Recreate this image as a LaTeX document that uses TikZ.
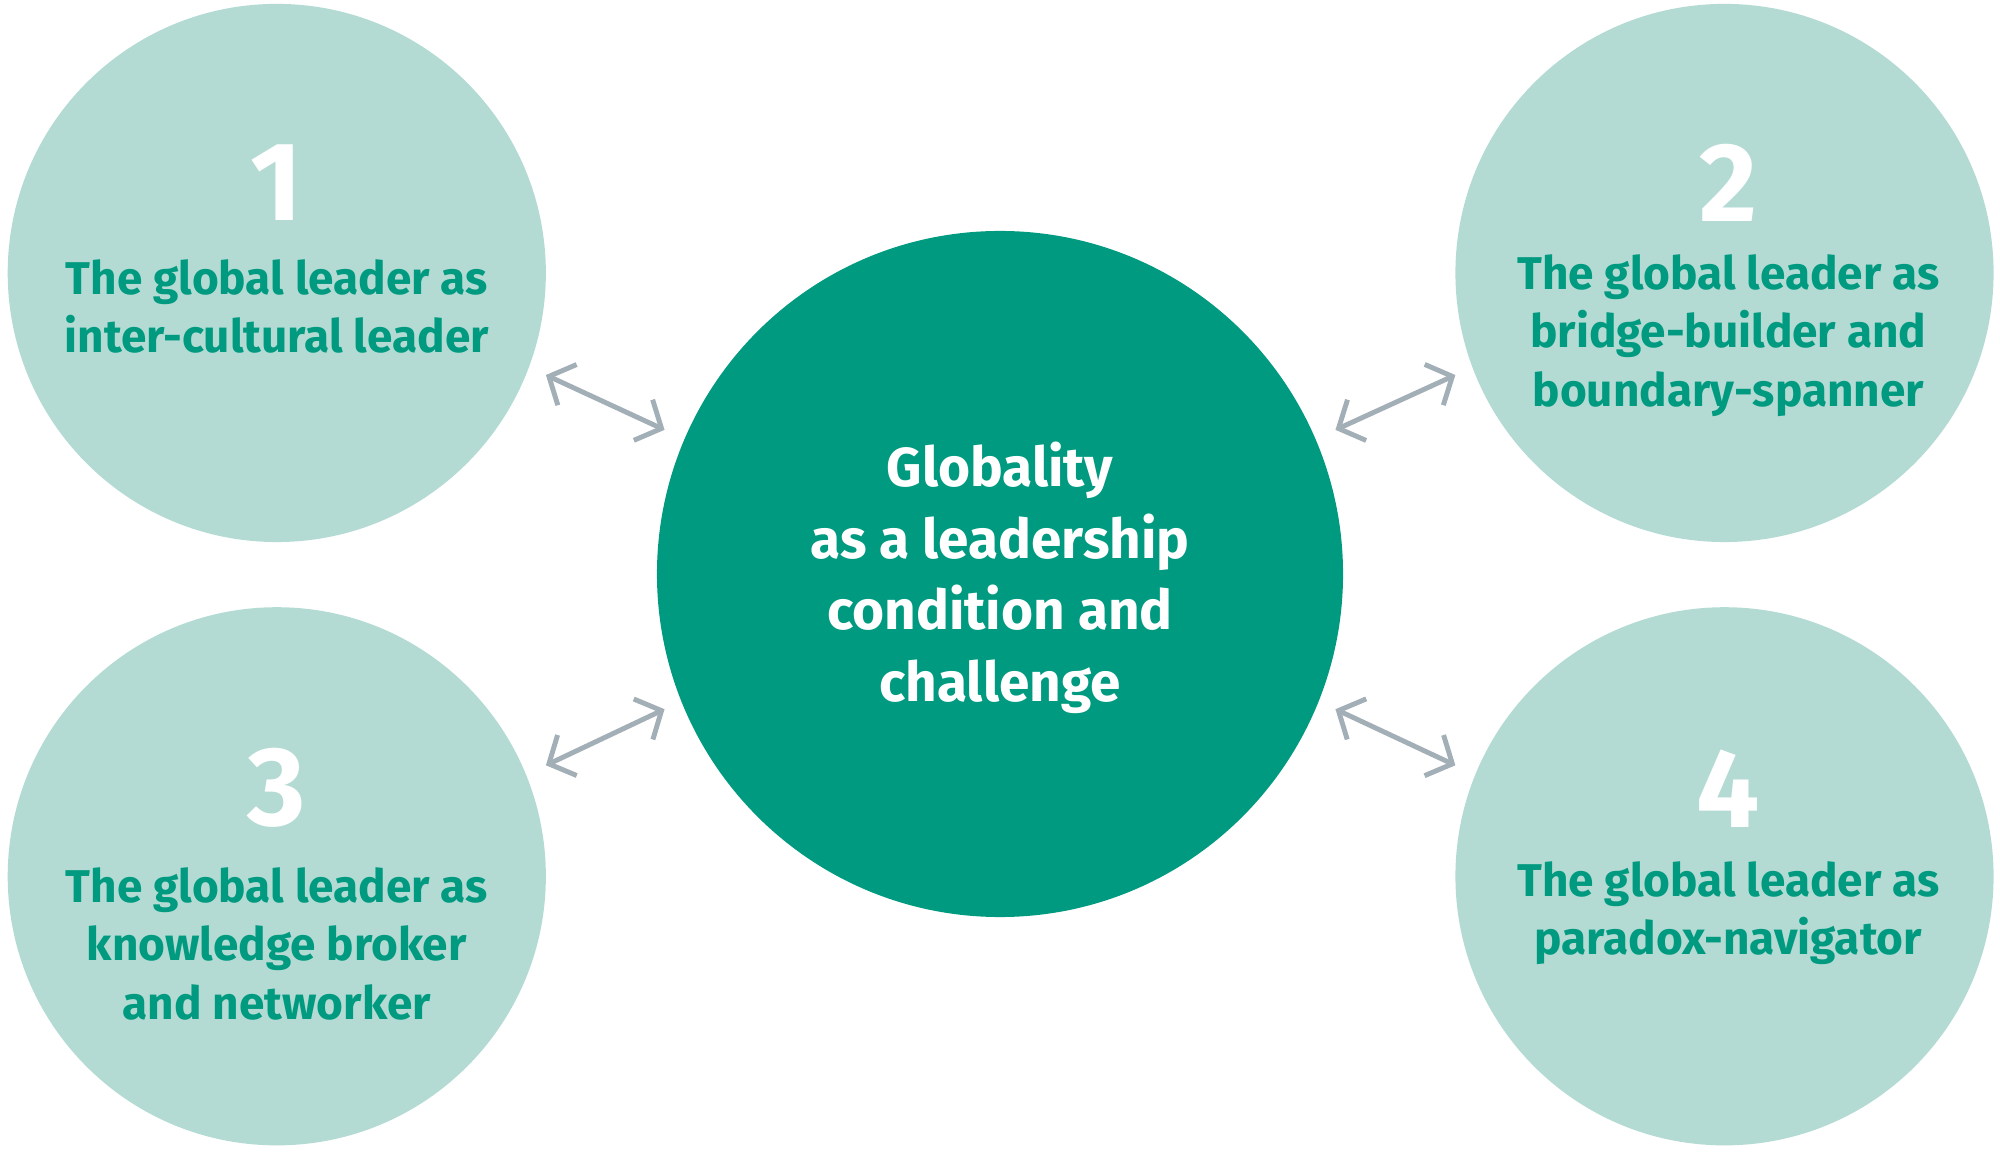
\documentclass[tikz,border=0pt]{standalone}
\usepackage{fontspec}
\setmainfont{Fira Sans}
\usetikzlibrary{arrows.meta}
\definecolor{dark}{HTML}{009A80}
\definecolor{light}{HTML}{B3DBD3}
\definecolor{arr}{HTML}{A3AFB7}
\begin{document}
\begin{tikzpicture}[x=0.02cm,y=-0.02cm,
  sat/.style={circle,fill=light,minimum size=8.44cm,inner sep=0pt},
  ctr/.style={circle,fill=dark,minimum size=10.76cm,inner sep=0pt},
  lab/.style={align=center,text=dark,font=\fontsize{20.5}{26}\selectfont\bfseries},
  num/.style={text=white,font=\fontsize{50}{50}\selectfont\bfseries},
  link/.style={draw=arr,line width=2.2pt,{Straight Barb[length=9pt,width=20pt]}-{Straight Barb[length=9pt,width=20pt]}}]
\useasboundingbox (0,0) rectangle (1568,904);
\node[sat] (c1) at (217,214) {};
\node[sat] (c2) at (1352,214) {};
\node[sat] (c3) at (217,687) {};
\node[sat] (c4) at (1352,687) {};
\node[ctr] (c0) at (784,450) {};
\node[num] (n1) at (217,143) {1};
\node[num] (n2) at (1355,143) {2};
\node[num] (n3) at (217,618) {3};
\node[num] (n4) at (1355,618) {4};
\node[lab] (t1) at (217,240) {The global leader as\\inter-cultural leader};
\node[lab] (t2) at (1355,263) {The global leader as\\bridge-builder and\\boundary-spanner};
\node[lab] (t3) at (217,740) {The global leader as\\knowledge broker\\and networker};
\node[lab] (t4) at (1355,716) {The global leader as\\paradox-navigator};
\node[align=center,text=white,font=\fontsize{24.5}{32}\selectfont\bfseries] (t0) at (784,453) {Globality\\as a leadership\\condition and\\challenge};
\coordinate (a1) at (428,294); \coordinate (b1) at (521,337);
\coordinate (a2) at (1047,337); \coordinate (b2) at (1141,294);
\coordinate (a3) at (428,600); \coordinate (b3) at (521,556);
\coordinate (a4) at (1047,556); \coordinate (b4) at (1141,600);
\draw[link] (a1) -- (b1);
\draw[link] (a2) -- (b2);
\draw[link] (a3) -- (b3);
\draw[link] (a4) -- (b4);
\end{tikzpicture}
\end{document}
